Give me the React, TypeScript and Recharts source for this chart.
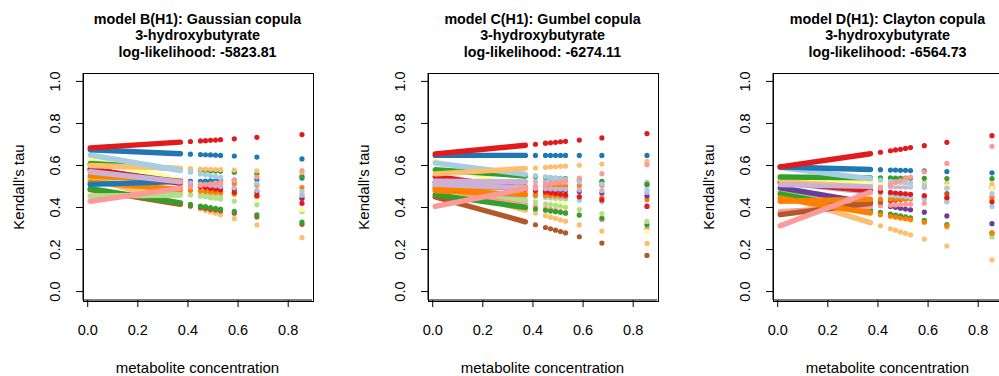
import React from "react";
import { ScatterChart, Scatter, XAxis, YAxis } from "recharts";

// metabolite concentration: dense band ends, then the sparse points
const xBand = [0.01, 0.37];
const xDots = [0.41, 0.45, 0.47, 0.49, 0.51, 0.53, 0.585, 0.675, 0.855];
const xTicks = [0, 0.2, 0.4, 0.6, 0.8];
const yTicks = [0, 0.2, 0.4, 0.6, 0.8, 1.0];

const titleB = ["model B(H1): Gaussian copula", "3-hydroxybutyrate", "log-likelihood: -5823.81"];
const titleC = ["model C(H1): Gumbel copula", "3-hydroxybutyrate", "log-likelihood: -6274.11"];
const titleD = ["model D(H1): Clayton copula", "3-hydroxybutyrate", "log-likelihood: -6564.73"];

// Paired palette
const LB = "#A6CEE3", BL = "#1F78B4", LG = "#B2DF8A", GR = "#33A02C", PK = "#FB9A99", RD = "#E31A1C";
const LO = "#FDBF6F", OR = "#FF7F00", LP = "#CAB2D6", PU = "#6A3D9A", YE = "#FFFF99", BR = "#B15928";

// each row: tau at xBand (2 values) followed by tau at xDots (9 values)
const gaussianColors = [LO, BR, GR, LG, LG, YE, OR, OR, BL, PU, RD, LP, GR, LO, LB, PK, BL, RD];
const gaussianTau = [
  [0.540, 0.419, 0.406, 0.393, 0.386, 0.379, 0.373, 0.366, 0.347, 0.317, 0.257],
  [0.485, 0.415, 0.407, 0.399, 0.395, 0.391, 0.388, 0.384, 0.373, 0.355, 0.320],
  [0.490, 0.422, 0.415, 0.407, 0.404, 0.400, 0.396, 0.392, 0.382, 0.365, 0.331],
  [0.455, 0.459, 0.459, 0.459, 0.460, 0.460, 0.460, 0.460, 0.461, 0.462, 0.463],
  [0.535, 0.469, 0.462, 0.454, 0.451, 0.447, 0.444, 0.440, 0.430, 0.413, 0.380],
  [0.630, 0.528, 0.516, 0.505, 0.499, 0.494, 0.488, 0.482, 0.467, 0.441, 0.390],
  [0.520, 0.486, 0.482, 0.478, 0.476, 0.474, 0.473, 0.471, 0.465, 0.457, 0.440],
  [0.550, 0.527, 0.524, 0.521, 0.520, 0.519, 0.518, 0.516, 0.513, 0.507, 0.495],
  [0.510, 0.523, 0.524, 0.525, 0.526, 0.527, 0.528, 0.528, 0.530, 0.533, 0.540],
  [0.580, 0.522, 0.516, 0.510, 0.506, 0.503, 0.500, 0.497, 0.488, 0.474, 0.445],
  [0.585, 0.515, 0.507, 0.499, 0.495, 0.491, 0.488, 0.484, 0.473, 0.455, 0.420],
  [0.570, 0.522, 0.517, 0.511, 0.509, 0.506, 0.504, 0.501, 0.494, 0.482, 0.458],
  [0.610, 0.584, 0.581, 0.578, 0.576, 0.575, 0.574, 0.572, 0.568, 0.561, 0.548],
  [0.600, 0.586, 0.585, 0.583, 0.583, 0.582, 0.581, 0.580, 0.578, 0.575, 0.568],
  [0.650, 0.576, 0.568, 0.560, 0.556, 0.552, 0.548, 0.543, 0.532, 0.514, 0.477],
  [0.430, 0.492, 0.499, 0.506, 0.510, 0.513, 0.517, 0.520, 0.529, 0.545, 0.576],
  [0.675, 0.656, 0.654, 0.652, 0.651, 0.650, 0.649, 0.648, 0.645, 0.640, 0.631],
  [0.684, 0.711, 0.714, 0.717, 0.718, 0.720, 0.721, 0.723, 0.727, 0.734, 0.747],
];

const gumbelColors = [BR, LO, PK, YE, GR, LG, LB, OR, OR, PU, RD, LP, LP, GR, LB, LO, PK, BL, RD];
const gumbelTau = [
  [0.450, 0.332, 0.318, 0.305, 0.299, 0.292, 0.286, 0.279, 0.261, 0.231, 0.172],
  [0.504, 0.387, 0.374, 0.361, 0.354, 0.348, 0.341, 0.335, 0.317, 0.288, 0.229],
  [0.500, 0.415, 0.405, 0.396, 0.391, 0.386, 0.382, 0.377, 0.364, 0.342, 0.300],
  [0.620, 0.478, 0.462, 0.446, 0.438, 0.430, 0.423, 0.415, 0.393, 0.357, 0.286],
  [0.461, 0.400, 0.393, 0.387, 0.383, 0.380, 0.377, 0.373, 0.364, 0.349, 0.318],
  [0.509, 0.434, 0.426, 0.418, 0.414, 0.410, 0.406, 0.401, 0.390, 0.371, 0.334],
  [0.490, 0.456, 0.452, 0.448, 0.446, 0.444, 0.443, 0.441, 0.435, 0.427, 0.410],
  [0.480, 0.462, 0.460, 0.458, 0.457, 0.456, 0.455, 0.453, 0.451, 0.446, 0.437],
  [0.490, 0.499, 0.500, 0.501, 0.501, 0.502, 0.502, 0.502, 0.504, 0.506, 0.510],
  [0.520, 0.492, 0.489, 0.486, 0.485, 0.483, 0.482, 0.480, 0.476, 0.469, 0.455],
  [0.548, 0.487, 0.480, 0.474, 0.470, 0.467, 0.464, 0.460, 0.451, 0.436, 0.405],
  [0.510, 0.494, 0.492, 0.490, 0.489, 0.488, 0.488, 0.487, 0.484, 0.480, 0.472],
  [0.525, 0.523, 0.523, 0.522, 0.522, 0.522, 0.522, 0.522, 0.522, 0.521, 0.520],
  [0.580, 0.550, 0.547, 0.543, 0.542, 0.540, 0.539, 0.537, 0.532, 0.525, 0.510],
  [0.612, 0.558, 0.552, 0.546, 0.543, 0.540, 0.537, 0.534, 0.526, 0.512, 0.485],
  [0.560, 0.586, 0.588, 0.591, 0.593, 0.594, 0.596, 0.597, 0.601, 0.607, 0.620],
  [0.405, 0.490, 0.499, 0.508, 0.513, 0.518, 0.523, 0.527, 0.540, 0.561, 0.604],
  [0.648, 0.648, 0.648, 0.648, 0.648, 0.648, 0.648, 0.648, 0.648, 0.648, 0.648],
  [0.655, 0.696, 0.701, 0.706, 0.708, 0.710, 0.713, 0.715, 0.721, 0.731, 0.752],
];

const claytonColors = [LO, LG, GR, PU, PK, BR, OR, LB, RD, LP, LO, YE, GR, LB, BL, OR, PK, RD];
const claytonTau = [
  [0.459, 0.328, 0.313, 0.299, 0.292, 0.284, 0.277, 0.270, 0.250, 0.217, 0.151],
  [0.477, 0.384, 0.374, 0.364, 0.359, 0.354, 0.349, 0.343, 0.329, 0.306, 0.260],
  [0.465, 0.386, 0.377, 0.369, 0.364, 0.360, 0.356, 0.351, 0.339, 0.319, 0.280],
  [0.494, 0.421, 0.413, 0.405, 0.401, 0.397, 0.393, 0.389, 0.378, 0.360, 0.323],
  [0.380, 0.405, 0.408, 0.411, 0.412, 0.414, 0.415, 0.416, 0.420, 0.427, 0.439],
  [0.366, 0.420, 0.426, 0.432, 0.435, 0.438, 0.441, 0.444, 0.452, 0.466, 0.493],
  [0.430, 0.439, 0.440, 0.441, 0.441, 0.442, 0.442, 0.442, 0.444, 0.446, 0.450],
  [0.520, 0.471, 0.466, 0.460, 0.457, 0.455, 0.452, 0.449, 0.442, 0.430, 0.405],
  [0.520, 0.480, 0.476, 0.472, 0.469, 0.467, 0.465, 0.463, 0.457, 0.447, 0.427],
  [0.509, 0.501, 0.500, 0.499, 0.499, 0.498, 0.498, 0.498, 0.496, 0.494, 0.490],
  [0.533, 0.523, 0.522, 0.521, 0.521, 0.520, 0.520, 0.519, 0.517, 0.515, 0.510],
  [0.548, 0.523, 0.520, 0.518, 0.516, 0.515, 0.514, 0.512, 0.508, 0.502, 0.490],
  [0.545, 0.541, 0.541, 0.541, 0.540, 0.540, 0.540, 0.540, 0.539, 0.538, 0.537],
  [0.590, 0.537, 0.531, 0.525, 0.522, 0.519, 0.517, 0.514, 0.505, 0.492, 0.466],
  [0.593, 0.581, 0.580, 0.578, 0.578, 0.577, 0.577, 0.576, 0.574, 0.571, 0.565],
  [0.445, 0.374, 0.366, 0.358, 0.354, 0.350, 0.346, 0.342, 0.331, 0.313, 0.278],
  [0.313, 0.474, 0.492, 0.510, 0.519, 0.528, 0.537, 0.545, 0.570, 0.610, 0.691],
  [0.593, 0.656, 0.663, 0.670, 0.674, 0.677, 0.681, 0.685, 0.694, 0.710, 0.742],
];

const X_DOMAIN: [number, number] = [-0.0188, 0.895];
const Y_DOMAIN: [number, number] = [-0.04, 1.04];
const FONT = "'Liberation Sans', Arial, sans-serif";
const PANEL_W = 345;
const BOX = { left: 83, top: 73, width: 229, height: 227 };

const XTick = (props: any) => {
  const { x, y, payload } = props;
  return (
    <text x={x} y={y + 26} textAnchor="middle" fontSize={14.5} fill="#000" fontFamily={FONT}>
      {payload.value.toFixed(1)}
    </text>
  );
};

const YTick = (props: any) => {
  const { x, y, payload } = props;
  const bx = x - 14;
  return (
    <text x={bx} y={y} transform={`rotate(-90 ${bx} ${y})`} textAnchor="middle" fontSize={14.5} fill="#000" fontFamily={FONT}>
      {payload.value.toFixed(1)}
    </text>
  );
};

const NoShape = () => <g />;

function Panel({ left, title, colors, tau }: { left: number; title: string[]; colors: string[]; tau: number[][] }) {
  const cx = BOX.left + BOX.width / 2;
  return (
    <div style={{ position: "absolute", left, top: 0, width: PANEL_W, height: 376 }}>
      <div
        style={{
          position: "absolute",
          left: cx - 150,
          width: 300,
          top: 10.5,
          textAlign: "center",
          fontWeight: "bold",
          fontSize: 14.3,
          lineHeight: "16.8px",
          fontFamily: FONT,
          color: "#000",
        }}
      >
        {title.map((t) => (
          <div key={t}>{t}</div>
        ))}
      </div>
      <ScatterChart
        width={PANEL_W}
        height={376}
        margin={{ top: BOX.top, right: PANEL_W - BOX.left - BOX.width, bottom: 46, left: 23 }}
      >
        <XAxis
          type="number"
          dataKey="x"
          domain={X_DOMAIN}
          ticks={xTicks}
          interval={0}
          allowDataOverflow
          height={30}
          tickSize={7}
          tick={XTick}
          axisLine={{ stroke: "#000" }}
          tickLine={{ stroke: "#000" }}
        />
        <YAxis
          type="number"
          dataKey="y"
          domain={Y_DOMAIN}
          ticks={yTicks}
          interval={0}
          allowDataOverflow
          width={60}
          tickSize={7}
          tick={YTick}
          axisLine={{ stroke: "#000" }}
          tickLine={{ stroke: "#000" }}
        />
        {tau.map((row, i) => {
          const color = colors[i];
          const band = xBand.map((x, j) => ({ x, y: row[j] }));
          const dots = xDots.map((x, j) => ({ x, y: row[j + 2] }));
          return [
            <Scatter
              key={`band-${i}`}
              data={band}
              fill={color}
              isAnimationActive={false}
              shape={NoShape}
              line={{ stroke: color, strokeWidth: 5.4, strokeLinecap: "round" }}
            />,
            <Scatter
              key={`dots-${i}`}
              data={dots}
              fill={color}
              isAnimationActive={false}
              shape={(p: any) => <circle cx={p.cx} cy={p.cy} r={2.6} fill={color} />}
            />,
          ];
        })}
      </ScatterChart>
      <div
        style={{
          position: "absolute",
          left: BOX.left - 0.5,
          top: BOX.top - 0.5,
          width: BOX.width,
          height: BOX.height,
          border: "1px solid #000",
          pointerEvents: "none",
        }}
      />
      <div
        style={{
          position: "absolute",
          left: cx - 150,
          width: 300,
          top: 358.5,
          textAlign: "center",
          fontSize: 15,
          lineHeight: "18px",
          fontFamily: FONT,
          color: "#000",
        }}
      >
        metabolite concentration
      </div>
      <div
        style={{
          position: "absolute",
          left: 19 - 100,
          top: 186.5 - 9,
          width: 200,
          height: 18,
          lineHeight: "18px",
          textAlign: "center",
          fontSize: 15,
          fontFamily: FONT,
          color: "#000",
          transform: "rotate(-90deg)",
        }}
      >
        Kendall's tau
      </div>
    </div>
  );
}

export default function App() {
  return (
    <div
      style={{
        position: "absolute",
        left: 0,
        top: 0,
        width: 999,
        height: 376,
        overflow: "hidden",
        background: "#fff",
      }}
    >
      <Panel left={0} title={titleB} colors={gaussianColors} tau={gaussianTau} />
      <Panel left={PANEL_W} title={titleC} colors={gumbelColors} tau={gumbelTau} />
      <Panel left={PANEL_W * 2} title={titleD} colors={claytonColors} tau={claytonTau} />
    </div>
  );
}
